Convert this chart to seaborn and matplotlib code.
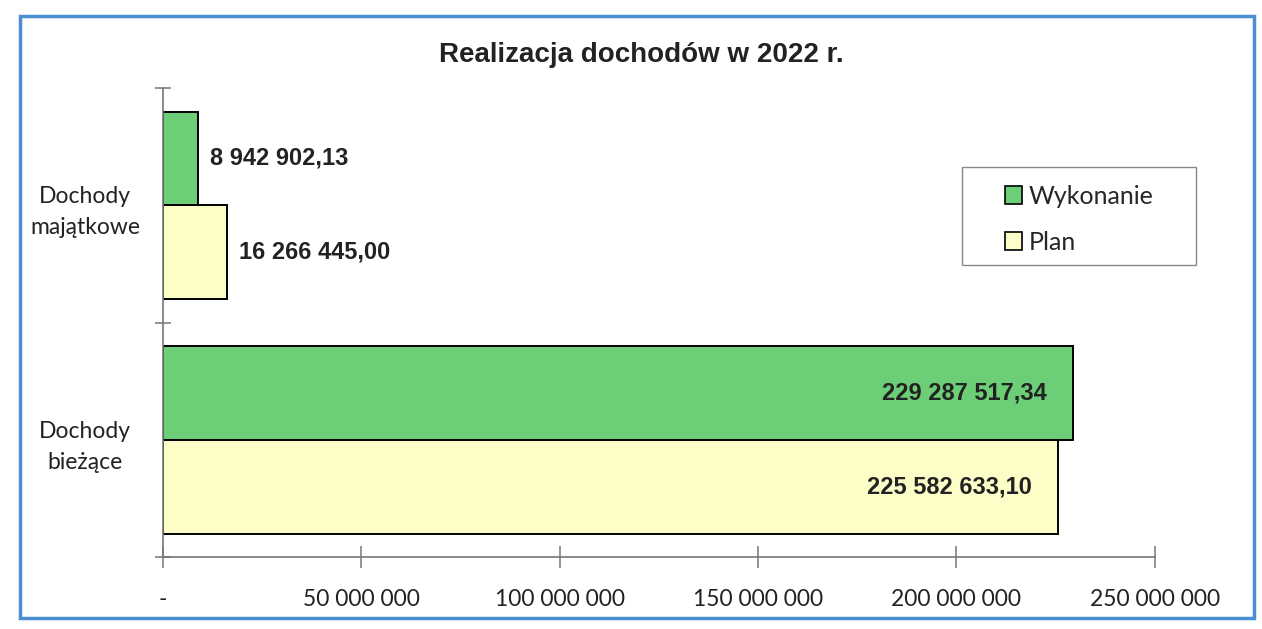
import matplotlib
matplotlib.use("Agg")
import matplotlib.pyplot as plt
import matplotlib.ticker as mticker
from matplotlib.patches import Rectangle
import seaborn as sns
import pandas as pd

categories = ["Dochody\nmajątkowe", "Dochody\nbieżące"]
series = ["Wykonanie", "Plan"]
wykonanie = [8942902.13, 229287517.34]
plan = [16266445.00, 225582633.10]
x_ticks = [0, 50000000, 100000000, 150000000, 200000000, 250000000]
x_labels = ["-", "50 000 000", "100 000 000", "150 000 000", "200 000 000", "250 000 000"]
colors = {"Wykonanie": "#6ccf78", "Plan": "#fdfdc8"}

df = pd.DataFrame({
    "kategoria": categories * 2,
    "seria": [series[0]] * 2 + [series[1]] * 2,
    "wartosc": wykonanie + plan,
})


def fmt(v):
    s = f"{v:,.2f}"
    whole, frac = s.split(".")
    return whole.replace(",", " ") + "," + frac


sns.set_style("white")
plt.rcParams["font.family"] = ["Lato", "DejaVu Sans"]

fig = plt.figure(figsize=(12.62, 6.29), dpi=100)
ax = fig.add_axes([0.129, 0.1145, 0.786, 0.7455])

sns.barplot(data=df, y="kategoria", x="wartosc", hue="seria", order=categories,
            hue_order=series, palette=colors, orient="h", width=0.8,
            edgecolor="black", linewidth=1.4, ax=ax, saturation=1)

ax.set_xlim(0, 250000000)
ax.set_ylim(1.5, -0.5)
ax.set_xticks(x_ticks)
ax.set_xticklabels(x_labels, fontsize=16.5, color="#222222")
ax.set_xlabel("")
ax.set_ylabel("")
ax.set_yticks([0, 1])
ax.set_yticklabels(categories, fontsize=16.5, color="#222222", ha="center", linespacing=1.6)
ax.tick_params(axis="y", which="major", length=0, pad=56)
ax.set_yticks([-0.5, 0.5, 1.5], minor=True)
ax.tick_params(axis="y", which="minor", left=True, length=12, width=1.1,
               direction="inout", color="#777777")
ax.tick_params(axis="x", which="major", bottom=True, length=16, width=1.1,
               direction="inout", color="#777777", pad=15)
ax.xaxis.set_minor_locator(mticker.NullLocator())

for side in ["top", "right"]:
    ax.spines[side].set_visible(False)
for side in ["left", "bottom"]:
    ax.spines[side].set_color("#777777")
    ax.spines[side].set_linewidth(1.2)

# value labels
for cont, vals in zip(ax.containers, [wykonanie, plan]):
    for bar, v in zip(cont, vals):
        yc = bar.get_y() + bar.get_height() / 2
        if v > 100000000:
            ax.text(v - 6500000, yc, fmt(v), ha="right", va="center",
                    fontsize=17, fontweight="bold", family="Liberation Sans", color="#222222")
        else:
            ax.text(v + 3000000, yc, fmt(v), ha="left", va="center",
                    fontsize=17, fontweight="bold", family="Liberation Sans", color="#222222")

# legend: frameless entries inside a separately drawn box
leg = ax.legend(loc="upper left", bbox_to_anchor=(0.796, 0.706), bbox_transform=fig.transFigure,
                fontsize=18, frameon=False, handlelength=0.7, handleheight=0.7,
                handletextpad=0.25, borderpad=0, borderaxespad=0, labelspacing=0.92, title=None)
for h in leg.legend_handles:
    h.set_edgecolor("black")
    h.set_linewidth(1.2)
fig.patches.append(Rectangle((0.762, 0.579), 0.186, 0.156, transform=fig.transFigure,
                             fill=False, edgecolor="#888888", linewidth=1.0))

fig.text(0.508, 0.912, "Realizacja dochodów w 2022 r.", ha="center", va="center",
         fontsize=20, fontweight="bold", family="Liberation Sans", color="#222222")

fig.patches.append(Rectangle((0.016, 0.018), 0.978, 0.957, transform=fig.transFigure,
                             fill=False, edgecolor="#4a8fd4", linewidth=2.5))

fig.savefig("out.png", dpi=100)
